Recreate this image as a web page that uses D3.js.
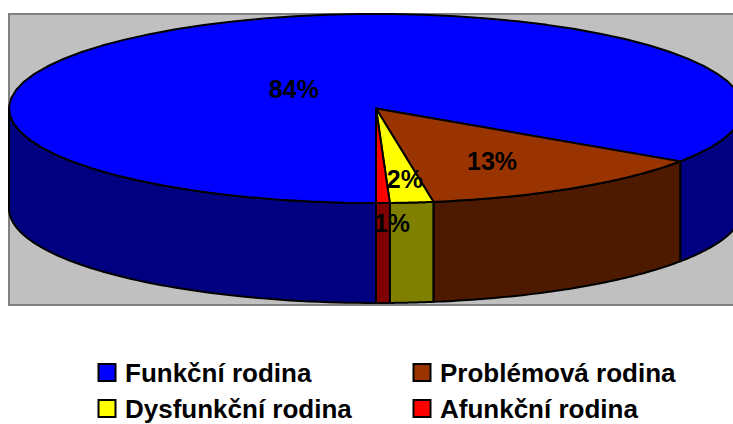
<!DOCTYPE html>
<html><head><meta charset="utf-8">
<script src="https://cdn.jsdelivr.net/npm/d3@7"></script>
<style>html,body{margin:0;padding:0;background:#fff;}svg{display:block;}</style>
</head><body>
<script>
const categories = ["Funkční rodina", "Problémová rodina", "Dysfunkční rodina", "Afunkční rodina"];
const values = [84.45, 13.05, 1.9, 0.6];
const topColors = ["#0000FF", "#993300", "#FFFF00", "#FF0000"];
const sideColors = ["#000080", "#4D1A00", "#808000", "#800000"];

const W = 733, H = 424;
const svg = d3.select("body").append("svg").attr("width", W).attr("height", H);
const FONT = "'Liberation Sans', Arial, Helvetica, sans-serif";

// plot area
svg.append("rect").attr("x", 9).attr("y", 14).attr("width", 730).attr("height", 291)
  .attr("fill", "#C0C0C0").attr("stroke", "#808080").attr("stroke-width", 2);

const cx = 376, cy = 108.5, rx = 367, ry = 94.5, depth = 100;
const total = d3.sum(values);
const arcs = d3.pie().sort(null).value(d => d).startAngle(0).endAngle(2 * Math.PI)(values);
const pt = (phi, dz = 0) => [cx + rx * Math.sin(phi), cy + ry * Math.cos(phi) + dz];
const samples = (a, b) => d3.range(0, 61).map(i => a + (b - a) * i / 60);

const slices = arcs.map((a, i) => ({
  i, p0: 2 * Math.PI - a.endAngle, p1: 2 * Math.PI - a.startAngle, value: a.value
}));

const line = d3.line();
// side walls (front half only)
const front = [[0, Math.PI / 2], [1.5 * Math.PI, 2 * Math.PI]];
const gSide = svg.append("g");
slices.forEach(s => {
  front.forEach(([f0, f1]) => {
    const a = Math.max(s.p0, f0), b = Math.min(s.p1, f1);
    if (b - a <= 1e-6) return;
    const topE = samples(a, b).map(p => pt(p));
    const botE = samples(a, b).reverse().map(p => pt(p, depth));
    gSide.append("path").attr("d", line(topE.concat(botE)) + "Z")
      .attr("fill", sideColors[s.i]).attr("stroke", "#000").attr("stroke-width", 2)
      .attr("stroke-linejoin", "round");
  });
});

// tops
const gTop = svg.append("g");
slices.forEach(s => {
  const pts = [[cx, cy]].concat(samples(s.p0, s.p1).map(p => pt(p)));
  gTop.append("path").attr("d", line(pts) + "Z")
    .attr("fill", topColors[s.i]).attr("stroke", "#000").attr("stroke-width", 2)
    .attr("stroke-linejoin", "round");
});

// labels: at mid-angle, half radius, with Excel-like nudges
const nudge = [[4, 22.5], [17.5, 12.4], [11, 23], [12.5, 67]];
slices.forEach(s => {
  const mid = (s.p0 + s.p1) / 2;
  const x = cx + 0.5 * rx * Math.sin(mid) + nudge[s.i][0];
  const y = cy + 0.5 * ry * Math.cos(mid) + nudge[s.i][1];
  svg.append("text").attr("x", x).attr("y", y).attr("text-anchor", "middle")
    .attr("dominant-baseline", "central")
    .attr("font-family", FONT).attr("font-weight", "bold").attr("font-size", 25)
    .attr("fill", "#000").text(Math.round(s.value / total * 100) + "%");
});

// legend
const legPos = [[98.5, 364], [413.5, 364], [98.5, 400], [413.5, 400]];
categories.forEach((c, i) => {
  const [x, y] = legPos[i];
  svg.append("rect").attr("x", x).attr("y", y).attr("width", 17).attr("height", 17)
    .attr("fill", topColors[i]).attr("stroke", "#000").attr("stroke-width", 2);
  svg.append("text").attr("x", x + 26.5).attr("y", y + 18)
    .attr("font-family", FONT).attr("font-weight", "bold").attr("font-size", 26)
    .attr("fill", "#000").text(c);
});
</script>
</body></html>
